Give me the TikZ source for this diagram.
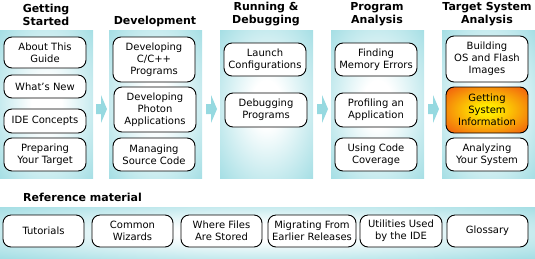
\documentclass[tikz,border=0pt]{standalone}
\usepackage{fontspec}
\setmainfont{DejaVu Sans}
\definecolor{cy}{RGB}{150,217,224}
\definecolor{orin}{RGB}{255,232,0}
\definecolor{orout}{RGB}{242,96,14}
\pgfdeclareradialshading{glow}{\pgfpoint{0bp}{0bp}}{color(0bp)=(white); color(8bp)=(white); color(40bp)=(cy); color(100bp)=(cy)}
\pgfdeclareradialshading{hot}{\pgfpoint{0bp}{0bp}}{color(0bp)=(orin); color(6bp)=(orin); color(34bp)=(orout); color(100bp)=(orout)}
\tikzset{
  panel/.style={inner sep=0, outer sep=0, shading=glow, minimum width=93pt, minimum height=148pt},
  band/.style={inner sep=0, outer sep=0, shading=glow, minimum width=535pt, minimum height=51pt},
  topic/.style={draw=black, line width=0.9pt, rounded corners=8pt, fill=white, align=center,
    inner sep=0, minimum width=82pt, font=\fontsize{10}{12}\selectfont},
  hottopic/.style={topic, fill=none, shading=hot},
  title/.style={align=center, inner sep=0, font=\fontsize{11}{13}\selectfont\bfseries},
  flow/.style={fill=cy},
}
\begin{document}
\begin{tikzpicture}[x=1pt,y=-1pt]
\useasboundingbox (0,0) rectangle (535,258);
% titles
\node[title] (t1) at (46,14.5) {Getting\\Started};
\node[title] (t2) at (155,21) {Development};
\node[title] (t3) at (266,14.5) {Running \&\\Debugging};
\node[title] (t4) at (377,14.5) {Program\\Analysis};
\node[title] (t5) at (487,14.5) {Target System\\Analysis};
% panels
\node[panel] (p1) at (46.5,104) {};
\node[panel] (p2) at (155.5,104) {};
\node[panel] (p3) at (266.5,104) {};
\node[panel] (p4) at (377.5,104) {};
\node[panel] (p5) at (488.5,104) {};
% arrows between panels
\foreach \c in {101,211,322,433}{
  \fill[flow] (\c-5,104) -- (\c,104) -- (\c,95) -- (\c+6,109) -- (\c,123) -- (\c,114) -- (\c-5,114) -- cycle;
}
% panel 1
\node[topic, minimum height=31pt] (guide) at (45,52.5) {About This\\Guide};
\node[topic, minimum height=23pt] (new) at (45,86.5) {What's New};
\node[topic, minimum height=24pt] (concepts) at (45,121) {IDE Concepts};
\node[topic, minimum height=33pt] (prep) at (45,154.5) {Preparing\\Your Target};
% panel 2
\node[topic, minimum height=45pt] (cpp) at (154,59.5) {Developing\\C/C++\\Programs};
\node[topic, minimum height=45pt] (photon) at (155,109.5) {Developing\\Photon\\Applications};
\node[topic, minimum height=33pt] (source) at (154,154.5) {Managing\\Source Code};
% panel 3
\node[topic, minimum height=33pt] (launch) at (265,59.5) {Launch\\Configurations};
\node[topic, minimum height=34pt] (debug) at (266,110) {Debugging\\Programs};
% panel 4
\node[topic, minimum height=33pt] (memory) at (376,59.5) {Finding\\Memory Errors};
\node[topic, minimum height=34pt] (profiling) at (376,110) {Profiling an\\Application};
\node[topic, minimum height=33pt] (coverage) at (376,154.5) {Using Code\\Coverage};
% panel 5
\node[topic, minimum height=46pt] (building) at (487,59) {Building\\OS and Flash\\Images};
\node[hottopic, minimum height=46pt] (sysinfo) at (487,110) {Getting\\System\\Information};
\node[topic, minimum height=33pt] (analyzing) at (487,154.5) {Analyzing\\Your System};
% reference material
\node[title, anchor=west] (reftitle) at (23,197) {Reference material};
\node[band] (refband) at (267.5,232.5) {};
\node[topic, minimum height=32pt, minimum width=81pt] (tutorials) at (43.5,231) {Tutorials};
\node[topic, minimum height=32pt, minimum width=81pt] (wizards) at (132.5,231) {Common\\Wizards};
\node[topic, minimum height=32pt, minimum width=81pt] (files) at (221.5,231) {Where Files\\Are Stored};
\node[topic, minimum height=32pt, minimum width=88pt] (migrating) at (312,231) {Migrating From\\Earlier Releases};
\node[topic, minimum height=32pt, minimum width=82pt] (utilities) at (401,231) {Utilities Used\\by the IDE};
\node[topic, minimum height=32pt, minimum width=81pt] (glossary) at (487.5,231) {Glossary};
\end{tikzpicture}
\end{document}
